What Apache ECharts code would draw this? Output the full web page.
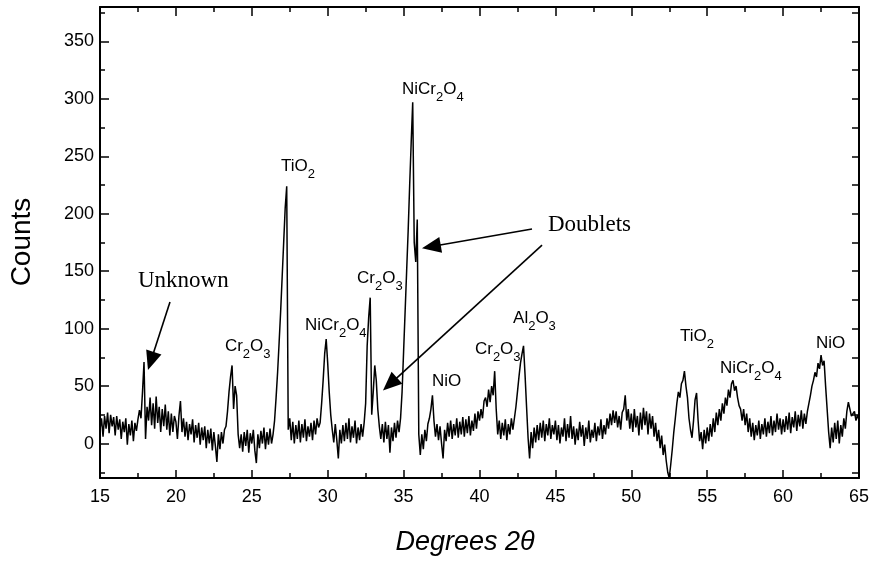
<!DOCTYPE html>
<html>
<head>
<meta charset="utf-8">
<script src="https://cdn.jsdelivr.net/npm/echarts@6/dist/echarts.min.js"></script>
<style>
html,body{margin:0;padding:0;background:#fff;}
#chart{width:875px;height:561px;}
</style>
</head>
<body>
<div id="chart"></div>
<script>
// ---- scan settings ----
const startDeg = 15;
const stepDeg = 0.1;

const counts15to20 = [12,22,6,24,13,27,9,25,15,23, 7,24,12,21,4,19,10,22,-1,17, 7,20,2,18,11,21,29,22,45,71, 4,32,20,40,16,35,13,41,18,32, 10,30,15,34,12,28,7,26,10,24];
const counts20to25 = [19,4,24,37,10,22,6,19,3,17, 8,21,1,16,5,18,-1,14,3,15, -4,12,0,13,-6,10,-2,-16,8,-5, 10,0,12,15,28,45,58,68,30,50, 42,8,-4,8,-7,10,-2,12,-8,9];
const counts25to30 = [0,12,-6,-17,8,-4,11,0,14,-5, 10,-1,13,0,8,20,40,62,88,115, 145,175,205,224,12,22,3,19,0,16, 4,20,1,17,5,21,2,15,6,18, 3,20,8,22,14,18,35,55,78,91];
const counts30to35 = [70,45,25,12,1,17,3,-13,12,0, 16,2,18,4,22,1,15,5,20,0, 14,3,17,6,18,35,85,110,127,25, 45,68,55,30,15,4,17,1,19,4, 16,-8,14,2,18,5,20,10,22,45];
const counts35to40 = [80,115,150,185,225,262,297,175,158,195, 8,-10,8,-5,12,2,17,22,30,42, 20,6,17,3,15,0,-13,12,2,18, 6,20,4,17,7,22,5,19,8,23, 6,21,9,24,7,20,11,26,13,28];
const counts40to45 = [20,30,22,37,40,32,47,36,50,42, 63,30,8,20,4,18,7,21,3,17, 8,22,12,22,32,45,58,70,78,85, 60,32,5,-13,10,-4,14,1,16,3, 18,5,20,2,17,7,22,4,16,8];
const counts45to50 = [20,3,16,0,14,6,22,2,17,5, 24,4,15,-1,13,3,19,6,16,-2, 14,4,20,1,12,5,18,2,15,7, 21,4,16,8,22,13,26,16,29,18, 28,14,24,12,27,30,42,20,30,13];
const counts50to55 = [26,10,30,14,24,7,27,12,31,16, 28,8,26,13,24,6,18,2,12,-4, 7,-10,-1,-15,-25,-30,-18,-5,10,22, 35,45,40,52,55,63,50,40,22,12, 5,20,38,44,20,2,10,-5,12,0];
const counts55to60 = [14,2,17,6,22,10,27,16,30,20, 35,26,40,33,47,40,52,55,46,50, 40,33,30,20,30,16,26,10,22,6, 18,3,16,7,20,4,17,8,22,6, 19,9,24,7,20,10,26,12,22,8];
const counts60to65 = [21,10,24,12,27,9,23,14,28,11, 25,15,29,13,26,17,28,35,42,50, 55,62,58,70,65,77,68,72,50,30, 10,-4,14,1,18,4,20,0,16,6, 22,13,28,36,30,24,26,28,20,25, 20];

// ---- axis ticks ----
const xTickStep = 5;
const yLabelValues = [0,50,100,150,200,250,300,350];
const yMinorTickValues = [-25,25,75,125,175,225,275,325,375];
const yRightTickValues = [-25,0,25,50,75,100,125,150,175,200,225,250,275,300,325,350,375];

// ---- annotations (data coordinates of label baseline-left) ----
const phaseLabels = [
  {name:'{m|Cr}{s|2}{m|O}{s|3}', at:[23.23, 78.8]},
  {name:'{m|TiO}{s|2}', at:[26.92, 235.5]},
  {name:'{m|NiCr}{s|2}{m|O}{s|4}', at:[28.50, 97.1]},
  {name:'{m|Cr}{s|2}{m|O}{s|3}', at:[31.93, 138]},
  {name:'{m|NiCr}{s|2}{m|O}{s|4}', at:[34.89, 302.5]},
  {name:'{m|NiO}', at:[36.87, 48.3]},
  {name:'{m|Cr}{s|2}{m|O}{s|3}', at:[39.70, 76.2]},
  {name:'{m|Al}{s|2}{m|O}{s|3}', at:[42.21, 103.2]},
  {name:'{m|TiO}{s|2}', at:[53.21, 87.5]},
  {name:'{m|NiCr}{s|2}{m|O}{s|4}', at:[55.84, 59.6]},
  {name:'{m|NiO}', at:[62.17, 81.4]}
];
const noteLabels = [
  {name:'Unknown', at:[17.50, 134.5]},
  {name:'Doublets', at:[44.51, 183.2]}
];
const arrows = [
  {from:[19.61, 123.2], to:[18.16, 64]},
  {from:[43.46, 186.7], to:[36.21, 170]},
  {from:[44.12, 172.7], to:[33.64, 46.1]}
];

const allCounts = [].concat(counts15to20, counts20to25, counts25to30, counts30to35, counts35to40,
  counts40to45, counts45to50, counts50to55, counts55to60, counts60to65);
const seriesData = allCounts.map((c, i) => [Math.round((startDeg + i * stepDeg) * 10) / 10, c]);

const chart = echarts.init(document.getElementById('chart'), null, {renderer: 'canvas'});
const black = '#000';
const sans = 'Arial, "Liberation Sans", sans-serif';

const baseX = {
  type: 'value', min: 15, max: 65, interval: xTickStep,
  splitLine: {show: false}, minorSplitLine: {show: false},
  axisLine: {show: true, onZero: false, lineStyle: {color: black, width: 2}},
};

chart.setOption({
  animation: false,
  backgroundColor: '#fff',
  grid: {left: 100, right: 16, top: 7, bottom: 83, containLabel: false},
  xAxis: [
    Object.assign({}, baseX, {
      position: 'bottom',
      axisTick: {inside: true, length: 8, lineStyle: {color: black, width: 1.5}},
      minorTick: {show: true, splitNumber: 2, length: 5, lineStyle: {color: black, width: 1.5}},
      axisLabel: {color: black, fontSize: 18, fontFamily: sans, margin: 10}
    }),
    Object.assign({}, baseX, {
      position: 'top',
      axisTick: {inside: true, length: 9, lineStyle: {color: black, width: 1.5}},
      minorTick: {show: true, splitNumber: 2, length: 5, lineStyle: {color: black, width: 1.5}},
      axisLabel: {show: false}
    })
  ],
  yAxis: [
    {
      type: 'value', min: -30, max: 380, position: 'left',
      splitLine: {show: false},
      axisLine: {show: true, onZero: false, lineStyle: {color: black, width: 2}},
      axisTick: {inside: true, length: 9, customValues: yLabelValues, lineStyle: {color: black, width: 1.5}},
      axisLabel: {color: black, fontSize: 18, fontFamily: sans, margin: 6, customValues: yLabelValues}
    },
    {
      type: 'value', min: -30, max: 380, position: 'left',
      splitLine: {show: false},
      axisLine: {show: false},
      axisTick: {inside: true, length: 5, customValues: yMinorTickValues, lineStyle: {color: black, width: 1.5}},
      axisLabel: {show: false}
    },
    {
      type: 'value', min: -30, max: 380, position: 'right',
      splitLine: {show: false},
      axisLine: {show: true, onZero: false, lineStyle: {color: black, width: 2}},
      axisTick: {inside: true, length: 7, customValues: yRightTickValues, lineStyle: {color: black, width: 1.5}},
      axisLabel: {show: false}
    }
  ],
  series: [{
    type: 'line',
    name: 'XRD',
    xAxisIndex: 0, yAxisIndex: 0,
    data: seriesData,
    showSymbol: false,
    symbol: 'none',
    sampling: null,
    lineStyle: {color: '#000', width: 1.5},
    clip: true
  }]
});

// ---- annotations positioned through the axes ----
function px(pt) { return chart.convertToPixel({xAxisIndex: 0, yAxisIndex: 0}, pt); }
const graphics = [];
const rich = {
  m: {fontSize: 17, lineHeight: 18, fontFamily: sans, fill: black, color: black, verticalAlign: 'top'},
  s: {fontSize: 13, lineHeight: 13, fontFamily: sans, fill: black, color: black, verticalAlign: 'top', padding: [10, 0, 0, 0]}
};
phaseLabels.forEach(l => {
  const p = px(l.at);
  graphics.push({type: 'text', x: p[0], y: p[1] - 15, silent: true,
    style: {text: l.name, rich: rich, align: 'left', verticalAlign: 'top', fill: black}});
});
noteLabels.forEach(l => {
  const p = px(l.at);
  graphics.push({type: 'text', x: p[0], y: p[1] - 7.8, silent: true,
    style: {text: l.name, font: '23px "Times New Roman", "Liberation Serif", serif', fill: black, align: 'left', verticalAlign: 'middle'}});
});
arrows.forEach(a => {
  const s = px(a.from), t = px(a.to);
  const dx = t[0] - s[0], dy = t[1] - s[1];
  const len = Math.hypot(dx, dy);
  const ux = dx / len, uy = dy / len;
  const hl = 19, hw = 8;
  const bx = t[0] - ux * hl, by = t[1] - uy * hl;
  graphics.push({type: 'line', silent: true,
    shape: {x1: s[0], y1: s[1], x2: bx + ux * 2, y2: by + uy * 2},
    style: {stroke: black, lineWidth: 1.6}});
  graphics.push({type: 'polygon', silent: true,
    shape: {points: [[t[0], t[1]], [bx - uy * hw, by + ux * hw], [bx + uy * hw, by - ux * hw]]},
    style: {fill: black}});
});
graphics.push({type: 'text', x: 22, y: 242, rotation: Math.PI / 2, silent: true,
  style: {text: 'Counts', font: '28px Arial, "Liberation Sans", sans-serif', fill: black, align: 'center', verticalAlign: 'middle'}});
graphics.push({type: 'text', x: 465, y: 542, silent: true,
  style: {text: 'Degrees 2θ', font: 'italic 27px Arial, "Liberation Sans", sans-serif', fill: black, align: 'center', verticalAlign: 'middle'}});
chart.setOption({graphic: graphics});
</script>
</body>
</html>
